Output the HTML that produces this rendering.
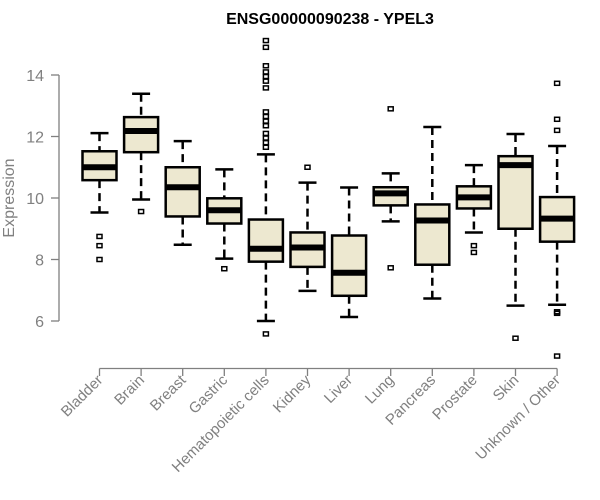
<!DOCTYPE html>
<html><head><meta charset="utf-8"><style>
body{margin:0;background:#fff}
svg{display:block;font-family:"Liberation Sans",Arial,sans-serif}
</style></head><body>
<svg id="chart" width="600" height="500">
<text x="330" y="24" text-anchor="middle" font-weight="bold" font-size="16" fill="#000">ENSG00000090238 - YPEL3</text>
<text transform="translate(14,198) rotate(-90)" text-anchor="middle" font-size="16" fill="#808080">Expression</text>
<g id="yaxis"></g>
<g id="xaxis"></g>
<g id="boxes"></g>
</svg>
<script>
const categories=["Bladder","Brain","Breast","Gastric","Hematopoietic cells","Kidney","Liver","Lung","Pancreas","Prostate","Skin","Unknown / Other"];
const whiskerLow=[9.53,9.95,8.48,8.03,6.0,6.98,6.13,9.24,6.73,8.88,6.5,6.53];
const q1=[10.58,11.49,9.4,9.17,7.93,7.76,6.82,9.76,7.83,9.66,9.0,8.58];
const medians=[11.0,12.18,10.35,9.6,8.35,8.39,7.57,10.15,9.27,10.02,11.07,9.33];
const q3=[11.52,12.63,11.0,9.99,9.3,8.88,8.78,10.35,9.79,10.38,11.36,10.03];
const whiskerHigh=[12.11,13.39,11.85,10.93,11.42,10.5,10.34,10.8,12.31,11.07,12.08,11.69];
const outliers=[[8.75,8.45,8.0],[9.56],[],[7.7],[15.12,14.9,14.3,14.1,13.95,13.8,13.58,12.8,12.65,12.5,12.35,12.1,11.95,11.8,11.65,5.58],[11.0],[],[12.9,7.73],[],[8.45,8.23],[5.44],[13.73,12.56,12.2,6.3,6.25,4.86]];
const yTicks=[6,8,10,12,14];
const NS="http://www.w3.org/2000/svg";
const y=v=>321-(v-6)*30.75;
const x=i=>99.5+i*41.6;
function mk(tag,attrs,parent){const e=document.createElementNS(NS,tag);for(const k in attrs)e.setAttribute(k,attrs[k]);parent.appendChild(e);return e;}
const ya=document.getElementById('yaxis'),xa=document.getElementById('xaxis'),bx=document.getElementById('boxes');
let l=mk('line',{x1:59,x2:59,y1:y(14),y2:y(6),stroke:'#808080','stroke-width':1.3},ya);


yTicks.forEach(t=>{
 const tk=mk('line',{x1:51,x2:59,y1:y(t),y2:y(t),stroke:'#808080','stroke-width':1.3},ya);
 
 
 const tx=mk('text',{x:44,y:y(t)+6,'text-anchor':'end','font-size':16,fill:'#808080'},ya);
 tx.textContent=t;
 
 
});
l=mk('line',{x1:x(0),x2:x(categories.length-1),y1:368.5,y2:368.5,stroke:'#808080','stroke-width':1.3},xa);


const hw=17;
categories.forEach((c,i)=>{
 const cx=x(i);
 const tk=mk('line',{x1:cx,x2:cx,y1:368.5,y2:376,stroke:'#808080','stroke-width':1.3},xa);
 
 
 const tx=mk('text',{transform:`translate(${cx+4},${381}) rotate(-45)`,'text-anchor':'end','font-size':15,fill:'#808080'},xa);
 tx.textContent=c;
 
 
 const g=mk('g',{},bx);
 
 
 mk('line',{x1:cx,x2:cx,y1:y(whiskerHigh[i]),y2:y(q3[i]),stroke:'#000','stroke-width':2.5,'stroke-dasharray':'8,5'},g);
 mk('line',{x1:cx,x2:cx,y1:y(q1[i]),y2:y(whiskerLow[i]),stroke:'#000','stroke-width':2.5,'stroke-dasharray':'8,5'},g);
 mk('line',{x1:cx-9,x2:cx+9,y1:y(whiskerHigh[i]),y2:y(whiskerHigh[i]),stroke:'#000','stroke-width':2.5},g);
 mk('line',{x1:cx-9,x2:cx+9,y1:y(whiskerLow[i]),y2:y(whiskerLow[i]),stroke:'#000','stroke-width':2.5},g);
 mk('rect',{x:cx-hw,y:y(q3[i]),width:hw*2,height:y(q1[i])-y(q3[i]),fill:'#ede8d0',stroke:'#000','stroke-width':2.5},g);
 mk('line',{x1:cx-hw,x2:cx+hw,y1:y(medians[i]),y2:y(medians[i]),stroke:'#000','stroke-width':6},g);
 outliers[i].forEach(o=>{
  const r=mk('rect',{x:cx-2.5,y:y(o)-2,width:5,height:4,fill:'none',stroke:'#000','stroke-width':1.5},g);
  
  
 });
});
</script>
</body></html>
